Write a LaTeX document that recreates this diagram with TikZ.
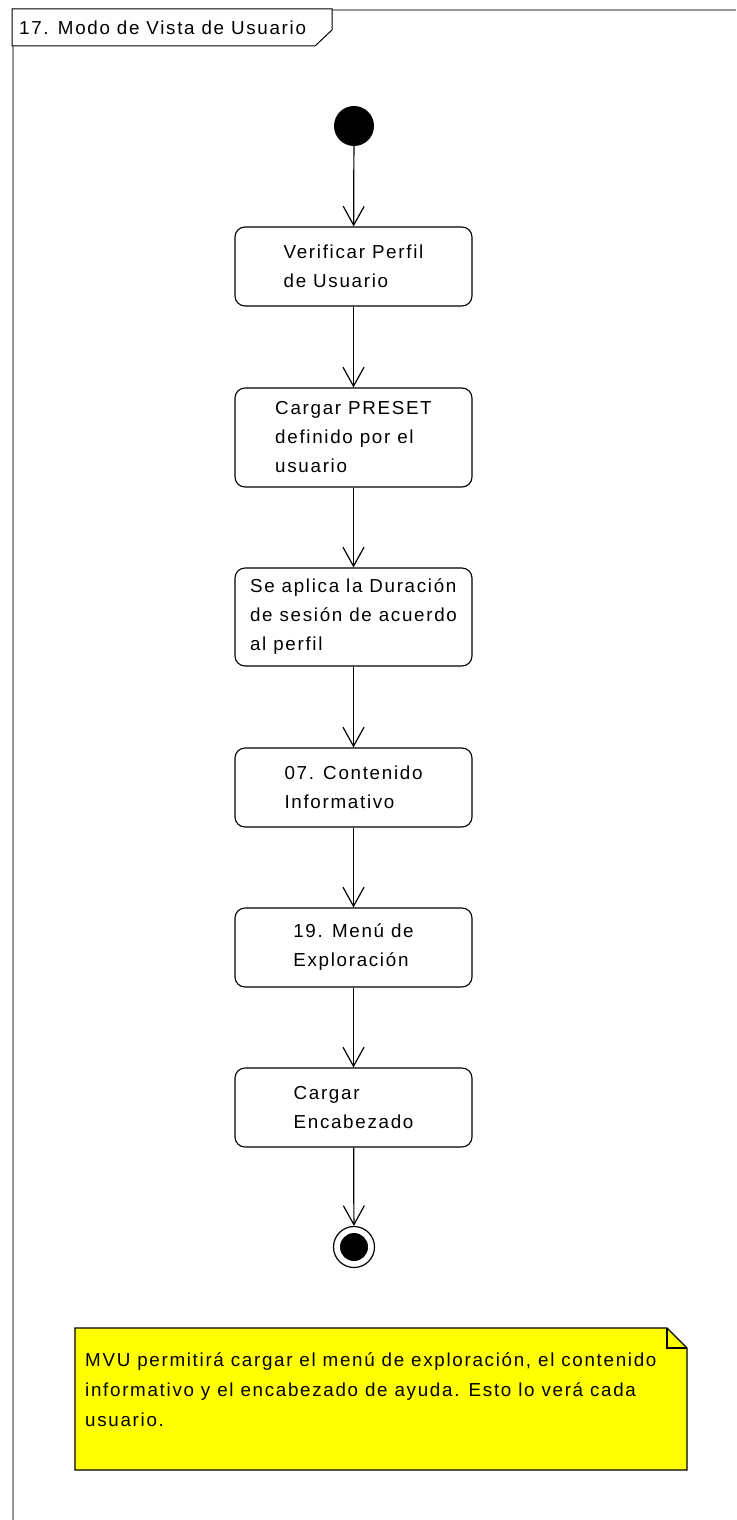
\documentclass[tikz,border=0pt]{standalone}
\usepackage{fontspec}
\setmainfont{Liberation Sans}[LetterSpace=9]
\usetikzlibrary{arrows.meta}
\definecolor{amarillo}{RGB}{255,255,0}

\begin{document}
\begin{tikzpicture}[
    x=1pt, y=-1pt,
    font=\fontsize{18.8}{29}\selectfont,
    accion/.style={
        draw=black, rounded corners=10pt, line width=1.1pt,
        minimum width=237pt, minimum height=79pt,
        align=left, inner sep=0pt
    },
    flujo/.style={draw=black, line width=1.2pt,
        -{Straight Barb[length=19pt, width=21pt]}},
    marco/.style={draw=black!40, line width=1.5pt},
    nota/.style={draw=black, fill=amarillo, line width=1.3pt}
]
\useasboundingbox (0,0) rectangle (736,1520);

%% ── Marco del diagrama ──────────────────────────────────────────
\draw[marco] (13,1520) -- (13,10) -- (736,10);
\draw[draw=black, fill=white, line width=1pt]
    (12,9) -- (332,9) -- (332,30) -- (315,46) -- (12,46) -- cycle;
\node[anchor=base west, inner sep=0pt] (titulo) at (19,35)
    {17. Modo de Vista de Usuario};

%% ── Inicio y fin ────────────────────────────────────────────────
\node[circle, fill=black, minimum size=40pt, inner sep=0pt] (inicio) at (354,126) {};
\node[circle, draw=black, line width=1.2pt, minimum size=41pt, inner sep=0pt] (fin) at (354,1247) {};
\node[circle, fill=black, minimum size=28pt, inner sep=0pt] (finpunto) at (fin) {};

%% ── Acciones ────────────────────────────────────────────────────
\node[accion] (perfil) at (353.5,266.5) {Verificar Perfil\\de Usuario};
\node[accion, minimum height=99pt] (preset) at (353.5,437.5)
    {Cargar PRESET\\definido por el\\usuario};
\node[accion, minimum height=98pt] (sesion) at (353.5,617)
    {Se aplica la Duración\\de sesión de acuerdo\\al perfil};
\node[accion] (contenido) at (353.5,787.5) {07. Contenido\\Informativo};
\node[accion] (menu) at (353.5,947.5) {19. Menú de\\Exploración};
\node[accion] (encabezado) at (353.5,1107.5) {Cargar\\Encabezado};

%% ── Flujos ──────────────────────────────────────────────────────
\draw[flujo] (inicio) -- (perfil);
\draw[flujo] (perfil) -- (preset);
\draw[flujo] (preset) -- (sesion);
\draw[flujo] (sesion) -- (contenido);
\draw[flujo] (contenido) -- (menu);
\draw[flujo] (menu) -- (encabezado);
\draw[flujo] (encabezado) -- (fin);

%% ── Nota ────────────────────────────────────────────────────────
\draw[nota] (75,1328) -- (667,1328) -- (687,1348) -- (687,1470)
    -- (75,1470) -- cycle;
\draw[draw=black, line width=1.3pt] (667,1328) -- (667,1348) -- (687,1348);
\node[anchor=north west, align=left, inner sep=0pt,
      font=\fontsize{18.8}{30}\selectfont] (texto) at (85,1352)
    {MVU permitirá cargar el menú de exploración, el contenido\\
     informativo y el encabezado de ayuda. Esto lo verá cada\\
     usuario.};

\end{tikzpicture}
\end{document}
